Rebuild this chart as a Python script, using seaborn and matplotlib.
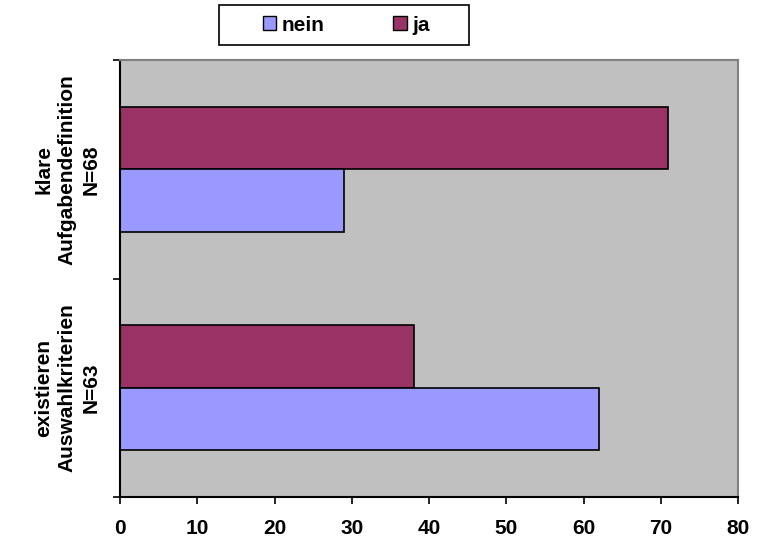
import matplotlib
matplotlib.use("Agg")
import matplotlib.pyplot as plt
from matplotlib.patches import Patch, Rectangle
from matplotlib.ticker import FixedLocator, NullFormatter
import seaborn as sns
import pandas as pd

# Survey shares (percent) per question
categories = ["klare\nAufgabendefinition\nN=68", "existieren\nAuswahlkriterien\nN=63"]
nein = [29, 62]
ja = [71, 38]
series_names = ["nein", "ja"]
x_ticks = [0, 10, 20, 30, 40, 50, 60, 70, 80]

colors = {"nein": "#9999FF", "ja": "#993366"}

df = pd.DataFrame({
    "Kategorie": categories * 2,
    "Antwort": ["nein"] * len(categories) + ["ja"] * len(categories),
    "Anteil": nein + ja,
})

sns.set_style("white")
plt.rcParams["font.family"] = ["Liberation Sans", "DejaVu Sans"]
plt.rcParams["font.weight"] = "bold"
plt.rcParams["text.color"] = "black"
plt.rcParams["xtick.labelcolor"] = "black"
plt.rcParams["ytick.labelcolor"] = "black"

FS = 15

W, H = 763, 542
fig = plt.figure(figsize=(W / 100, H / 100), dpi=100)
ax = fig.add_axes([120 / W, 1 - 497 / H, (738 - 120) / W, (497 - 60) / H])
ax.set_facecolor("#C0C0C0")

sns.barplot(
    data=df, y="Kategorie", x="Anteil", hue="Antwort",
    order=categories, hue_order=["ja", "nein"], palette=colors,
    orient="h", width=0.57, saturation=1, edgecolor="black",
    linewidth=1.2, legend=False, ax=ax,
)

ax.set_xlim(0, 80)
ax.set_ylim(1.5, -0.5)
ax.set_xticks(x_ticks)
ax.set_xticklabels([str(t) for t in x_ticks], fontsize=FS, fontweight="bold")
ax.set_xlabel("")
ax.set_ylabel("")

# category labels centred on groups, tick marks on group boundaries
ax.set_yticks(range(len(categories)))
ax.set_yticklabels(categories, rotation=90, va="center", ha="center",
                   multialignment="center", fontsize=FS, fontweight="bold",
                   linespacing=1.3)
ax.tick_params(axis="y", which="major", length=0, pad=38)
ax.yaxis.set_minor_locator(FixedLocator([-0.5, 0.5, 1.5]))
ax.yaxis.set_minor_formatter(NullFormatter())
ax.tick_params(axis="y", which="minor", left=True, length=5, width=1.2, color="black")
ax.tick_params(axis="x", which="major", bottom=True, length=5, width=1.2,
               color="black", pad=11)

for side in ("left", "bottom"):
    ax.spines[side].set_color("black")
    ax.spines[side].set_linewidth(1.5)
for side in ("top", "right"):
    ax.spines[side].set_color("#808080")
    ax.spines[side].set_linewidth(1.5)
    ax.spines[side].set_visible(True)

# legend box above the plot
fig.patches.append(Rectangle((219 / W, 1 - 45 / H), 250 / W, 40 / H,
                             transform=fig.transFigure, facecolor="white",
                             edgecolor="black", linewidth=1.2, zorder=0))
handles = [Patch(facecolor=colors[n], edgecolor="black", linewidth=1.0, label=n)
           for n in series_names]
fig.legend(handles=handles, loc="center", bbox_to_anchor=(346 / W, 1 - 25 / H),
           ncol=2, frameon=False, prop={"size": FS, "weight": "bold"},
           handlelength=0.65, handleheight=0.65, handletextpad=0.25,
           columnspacing=3.3)

fig.savefig("out.png", dpi=100)
